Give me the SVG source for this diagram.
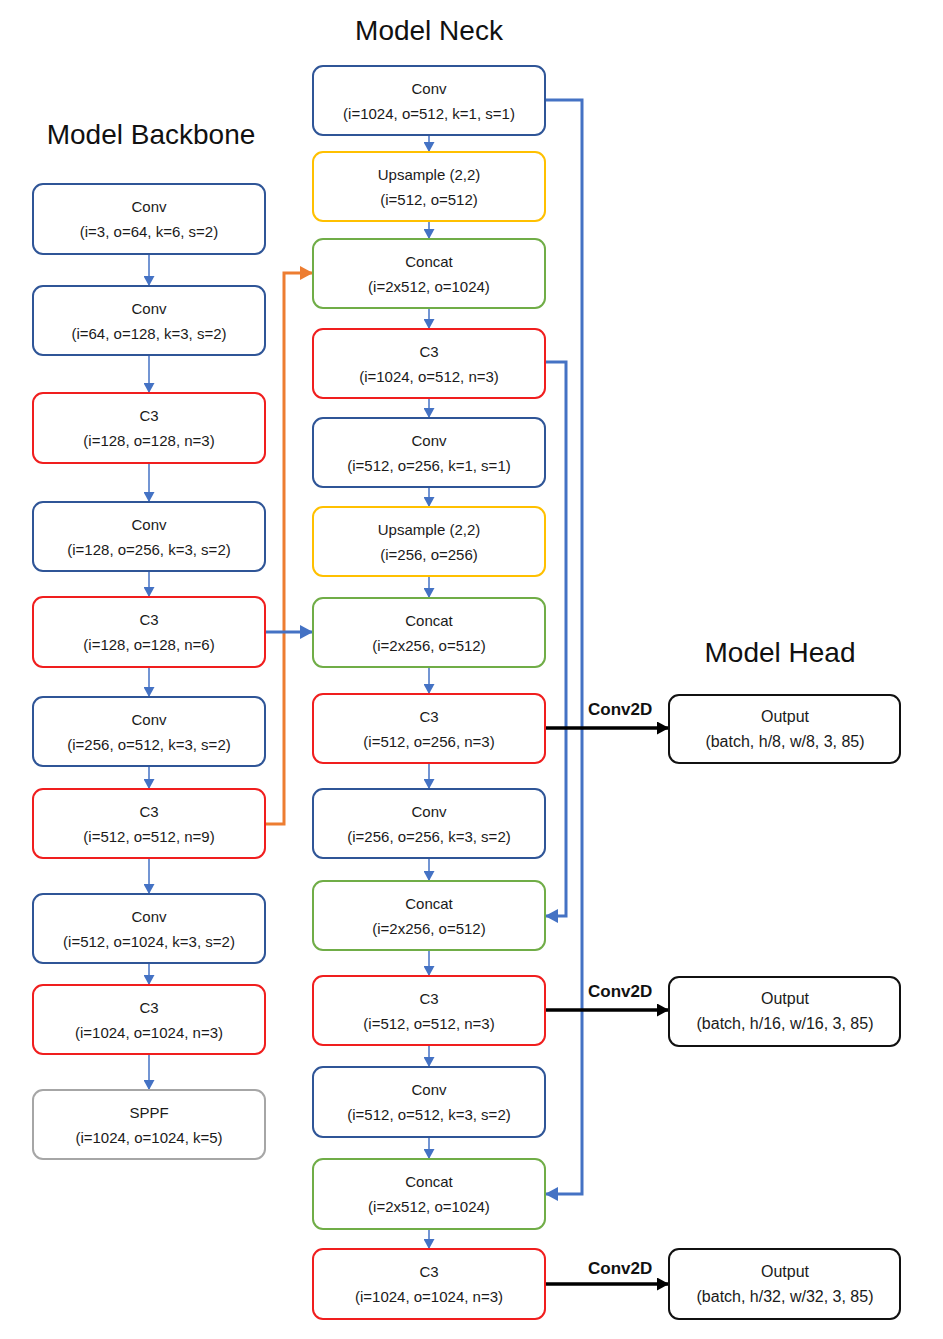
<svg xmlns="http://www.w3.org/2000/svg" width="943" height="1339" viewBox="0 0 943 1339">
<style>
.bg{fill:#ffffff}
.box{fill:#ffffff;stroke-width:2}
.conv{stroke:#2F5597}
.c3{stroke:#F01E1E}
.up{stroke:#FFC000}
.cat{stroke:#70AD47}
.sppf{stroke:#A6A6A6}
.out{stroke:#111111}
.t{font-family:"Liberation Sans",Arial,sans-serif;font-size:15px;fill:#1a1a1a;text-anchor:middle}
.th{font-family:"Liberation Sans",Arial,sans-serif;font-size:16px;fill:#1a1a1a;text-anchor:middle}
.title{font-family:"Liberation Sans",Arial,sans-serif;font-size:28px;fill:#111111;text-anchor:middle}
.lbl{font-family:"Liberation Sans",Arial,sans-serif;font-size:17px;font-weight:bold;fill:#111111}
.thin{fill:none;stroke:#4472C4;stroke-width:1.5}
.thick{fill:none;stroke:#4472C4;stroke-width:3}
.orange{fill:none;stroke:#ED7D31;stroke-width:3}
.black{fill:none;stroke:#000000;stroke-width:3.5}
</style>
<defs>
<marker id="ah" markerUnits="userSpaceOnUse" markerWidth="10" markerHeight="11" refX="10" refY="5.5" orient="auto"><path d="M0,0 L10,5.5 L0,11 z" fill="#4472C4"/></marker>
<marker id="ahB" markerUnits="userSpaceOnUse" markerWidth="13" markerHeight="14" refX="13" refY="7" orient="auto"><path d="M0,0 L13,7 L0,14 z" fill="#4472C4"/></marker>
<marker id="ahO" markerUnits="userSpaceOnUse" markerWidth="13" markerHeight="14" refX="13" refY="7" orient="auto"><path d="M0,0 L13,7 L0,14 z" fill="#ED7D31"/></marker>
<marker id="ahK" markerUnits="userSpaceOnUse" markerWidth="12" markerHeight="13" refX="12" refY="6.5" orient="auto"><path d="M0,0 L12,6.5 L0,13 z" fill="#000000"/></marker>
</defs>
<rect class="bg" x="0" y="0" width="943" height="1339"/>

<text class="title" x="429" y="40">Model Neck</text>
<text class="title" x="151" y="144">Model Backbone</text>
<text class="title" x="780" y="662">Model Head</text>

<g id="connectors">
<!-- backbone flow -->
<path class="thin" marker-end="url(#ah)" d="M149,254 V286"/>
<path class="thin" marker-end="url(#ah)" d="M149,355 V393"/>
<path class="thin" marker-end="url(#ah)" d="M149,463 V502"/>
<path class="thin" marker-end="url(#ah)" d="M149,571 V597"/>
<path class="thin" marker-end="url(#ah)" d="M149,667 V697"/>
<path class="thin" marker-end="url(#ah)" d="M149,766 V789"/>
<path class="thin" marker-end="url(#ah)" d="M149,858 V894"/>
<path class="thin" marker-end="url(#ah)" d="M149,963 V985"/>
<path class="thin" marker-end="url(#ah)" d="M149,1054 V1090"/>
<!-- neck flow -->
<path class="thin" marker-end="url(#ah)" d="M429,135 V152"/>
<path class="thin" marker-end="url(#ah)" d="M429,221 V239"/>
<path class="thin" marker-end="url(#ah)" d="M429,308 V329"/>
<path class="thin" marker-end="url(#ah)" d="M429,398 V418"/>
<path class="thin" marker-end="url(#ah)" d="M429,487 V507"/>
<path class="thin" marker-end="url(#ah)" d="M429,576 V598"/>
<path class="thin" marker-end="url(#ah)" d="M429,667 V694"/>
<path class="thin" marker-end="url(#ah)" d="M429,763 V789"/>
<path class="thin" marker-end="url(#ah)" d="M429,858 V881"/>
<path class="thin" marker-end="url(#ah)" d="M429,950 V976"/>
<path class="thin" marker-end="url(#ah)" d="M429,1045 V1067"/>
<path class="thin" marker-end="url(#ah)" d="M429,1137 V1159"/>
<path class="thin" marker-end="url(#ah)" d="M429,1229 V1249"/>
<!-- skip connections -->
<path class="orange" marker-end="url(#ahO)" d="M265,824 H284 V273 H313"/>
<path class="thick" marker-end="url(#ahB)" d="M265,632 H313"/>
<path class="thick" marker-end="url(#ahB)" d="M545,100 H582 V1194 H545"/>
<path class="thick" marker-end="url(#ahB)" d="M545,362 H566 V916 H545"/>
<!-- head -->
<path class="black" marker-end="url(#ahK)" d="M545,728 H669"/>
<path class="black" marker-end="url(#ahK)" d="M545,1010 H669"/>
<path class="black" marker-end="url(#ahK)" d="M545,1284 H669"/>
<text class="lbl" x="588" y="715">Conv2D</text>
<text class="lbl" x="588" y="997">Conv2D</text>
<text class="lbl" x="588" y="1274">Conv2D</text>
</g>

<!-- Backbone -->
<g id="b1"><rect class="box conv" x="33" y="184" width="232" height="70" rx="10"/><text class="t" x="149" y="212">Conv</text><text class="t" x="149" y="237">(i=3, o=64, k=6, s=2)</text></g>
<g id="b2"><rect class="box conv" x="33" y="286" width="232" height="69" rx="10"/><text class="t" x="149" y="314">Conv</text><text class="t" x="149" y="339">(i=64, o=128, k=3, s=2)</text></g>
<g id="b3"><rect class="box c3" x="33" y="393" width="232" height="70" rx="10"/><text class="t" x="149" y="421">C3</text><text class="t" x="149" y="446">(i=128, o=128, n=3)</text></g>
<g id="b4"><rect class="box conv" x="33" y="502" width="232" height="69" rx="10"/><text class="t" x="149" y="530">Conv</text><text class="t" x="149" y="555">(i=128, o=256, k=3, s=2)</text></g>
<g id="b5"><rect class="box c3" x="33" y="597" width="232" height="70" rx="10"/><text class="t" x="149" y="625">C3</text><text class="t" x="149" y="650">(i=128, o=128, n=6)</text></g>
<g id="b6"><rect class="box conv" x="33" y="697" width="232" height="69" rx="10"/><text class="t" x="149" y="725">Conv</text><text class="t" x="149" y="750">(i=256, o=512, k=3, s=2)</text></g>
<g id="b7"><rect class="box c3" x="33" y="789" width="232" height="69" rx="10"/><text class="t" x="149" y="817">C3</text><text class="t" x="149" y="842">(i=512, o=512, n=9)</text></g>
<g id="b8"><rect class="box conv" x="33" y="894" width="232" height="69" rx="10"/><text class="t" x="149" y="922">Conv</text><text class="t" x="149" y="947">(i=512, o=1024, k=3, s=2)</text></g>
<g id="b9"><rect class="box c3" x="33" y="985" width="232" height="69" rx="10"/><text class="t" x="149" y="1013">C3</text><text class="t" x="149" y="1038">(i=1024, o=1024, n=3)</text></g>
<g id="b10"><rect class="box sppf" x="33" y="1090" width="232" height="69" rx="10"/><text class="t" x="149" y="1118">SPPF</text><text class="t" x="149" y="1143">(i=1024, o=1024, k=5)</text></g>

<!-- Neck -->
<g id="n1"><rect class="box conv" x="313" y="66" width="232" height="69" rx="10"/><text class="t" x="429" y="94">Conv</text><text class="t" x="429" y="119">(i=1024, o=512, k=1, s=1)</text></g>
<g id="n2"><rect class="box up" x="313" y="152" width="232" height="69" rx="10"/><text class="t" x="429" y="180">Upsample (2,2)</text><text class="t" x="429" y="205">(i=512, o=512)</text></g>
<g id="n3"><rect class="box cat" x="313" y="239" width="232" height="69" rx="10"/><text class="t" x="429" y="267">Concat</text><text class="t" x="429" y="292">(i=2x512, o=1024)</text></g>
<g id="n4"><rect class="box c3" x="313" y="329" width="232" height="69" rx="10"/><text class="t" x="429" y="357">C3</text><text class="t" x="429" y="382">(i=1024, o=512, n=3)</text></g>
<g id="n5"><rect class="box conv" x="313" y="418" width="232" height="69" rx="10"/><text class="t" x="429" y="446">Conv</text><text class="t" x="429" y="471">(i=512, o=256, k=1, s=1)</text></g>
<g id="n6"><rect class="box up" x="313" y="507" width="232" height="69" rx="10"/><text class="t" x="429" y="535">Upsample (2,2)</text><text class="t" x="429" y="560">(i=256, o=256)</text></g>
<g id="n7"><rect class="box cat" x="313" y="598" width="232" height="69" rx="10"/><text class="t" x="429" y="626">Concat</text><text class="t" x="429" y="651">(i=2x256, o=512)</text></g>
<g id="n8"><rect class="box c3" x="313" y="694" width="232" height="69" rx="10"/><text class="t" x="429" y="722">C3</text><text class="t" x="429" y="747">(i=512, o=256, n=3)</text></g>
<g id="n9"><rect class="box conv" x="313" y="789" width="232" height="69" rx="10"/><text class="t" x="429" y="817">Conv</text><text class="t" x="429" y="842">(i=256, o=256, k=3, s=2)</text></g>
<g id="n10"><rect class="box cat" x="313" y="881" width="232" height="69" rx="10"/><text class="t" x="429" y="909">Concat</text><text class="t" x="429" y="934">(i=2x256, o=512)</text></g>
<g id="n11"><rect class="box c3" x="313" y="976" width="232" height="69" rx="10"/><text class="t" x="429" y="1004">C3</text><text class="t" x="429" y="1029">(i=512, o=512, n=3)</text></g>
<g id="n12"><rect class="box conv" x="313" y="1067" width="232" height="70" rx="10"/><text class="t" x="429" y="1095">Conv</text><text class="t" x="429" y="1120">(i=512, o=512, k=3, s=2)</text></g>
<g id="n13"><rect class="box cat" x="313" y="1159" width="232" height="70" rx="10"/><text class="t" x="429" y="1187">Concat</text><text class="t" x="429" y="1212">(i=2x512, o=1024)</text></g>
<g id="n14"><rect class="box c3" x="313" y="1249" width="232" height="70" rx="10"/><text class="t" x="429" y="1277">C3</text><text class="t" x="429" y="1302">(i=1024, o=1024, n=3)</text></g>

<!-- Head -->
<g id="h1"><rect class="box out" x="669" y="695" width="231" height="68" rx="10"/><text class="th" x="785" y="722">Output</text><text class="th" x="785" y="747">(batch, h/8, w/8, 3, 85)</text></g>
<g id="h2"><rect class="box out" x="669" y="977" width="231" height="69" rx="10"/><text class="th" x="785" y="1004">Output</text><text class="th" x="785" y="1029">(batch, h/16, w/16, 3, 85)</text></g>
<g id="h3"><rect class="box out" x="669" y="1249" width="231" height="70" rx="10"/><text class="th" x="785" y="1277">Output</text><text class="th" x="785" y="1302">(batch, h/32, w/32, 3, 85)</text></g>
</svg>
